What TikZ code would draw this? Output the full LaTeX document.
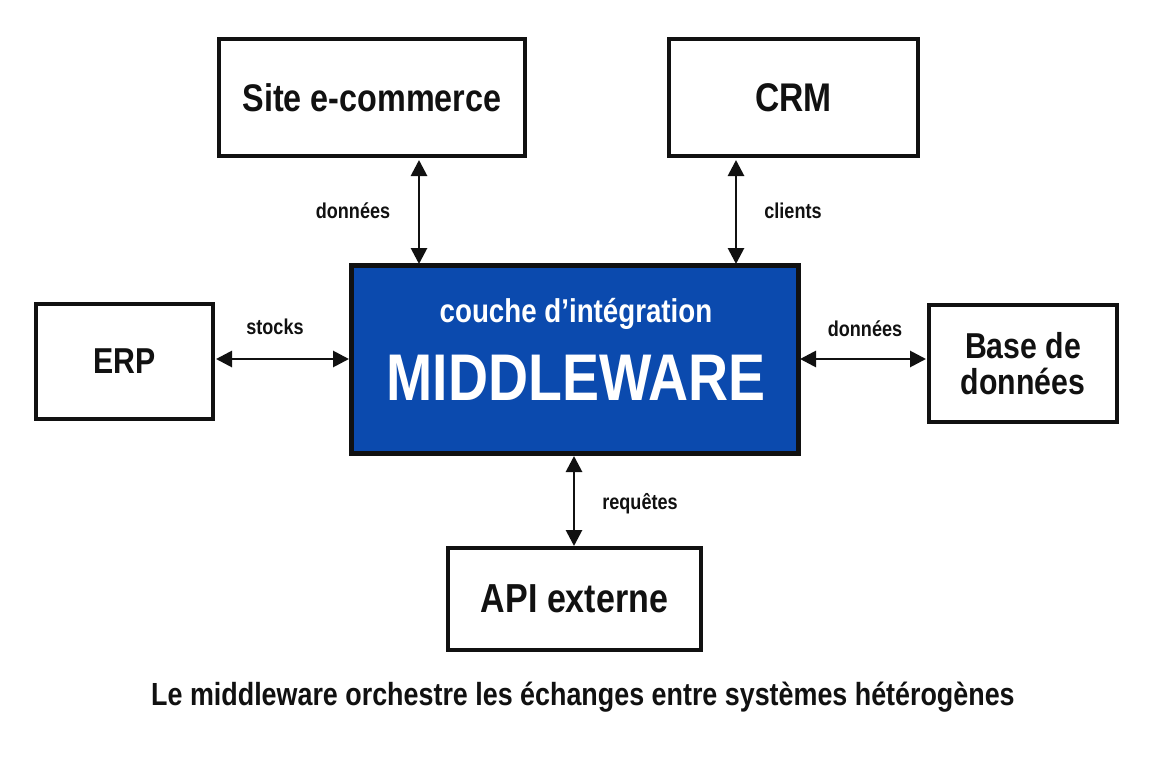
\documentclass[tikz,border=0pt]{standalone}
\usepackage{fontspec}
\setmainfont{Liberation Sans}[FakeStretch=0.84]
\usetikzlibrary{arrows.meta}
\definecolor{mwblue}{HTML}{0B4AAE}
\definecolor{ink}{HTML}{111111}
\tikzset{
  sysbox/.style={draw=ink, line width=4pt, fill=white, text=ink, font=\bfseries\fontsize{36}{40}\selectfont, align=center, inner sep=0pt},
  mwbox/.style={draw=ink, line width=5pt, fill=mwblue, inner sep=0pt},
  link/.style={draw=ink, line width=2.8pt, {Triangle[length=16pt,width=16pt]}-{Triangle[length=16pt,width=16pt]}},
  lbl/.style={text=ink, font=\bfseries\fontsize{21.5}{24}\selectfont, inner sep=0pt},
}
\begin{document}
\begin{tikzpicture}[x=1pt,y=-1pt]
\useasboundingbox (0,0) rectangle (1152,768);
\fill[white] (0,0) rectangle (1152,768);
% boxes
\node[sysbox, minimum width=306pt, minimum height=117pt, font=\bfseries\fontsize{38.5}{42}\selectfont] (site) at (372,97.5) {Site e-commerce};
\node[sysbox, minimum width=249pt, minimum height=117pt, font=\bfseries\fontsize{40}{44}\selectfont] (crm) at (793.5,97.5) {CRM};
\node[sysbox, minimum width=177pt, minimum height=115pt] (erp) at (124.5,361.5) {ERP};
\node[sysbox, minimum width=188pt, minimum height=117pt] (bdd) at (1023,363.5) {Base de\\[-4pt]données};
\node[sysbox, minimum width=253pt, minimum height=102pt, font=\bfseries\fontsize{40.5}{44}\selectfont] (api) at (574.5,599) {API externe};
\node[mwbox, minimum width=447pt, minimum height=188pt] (mw) at (574.5,359) {};
\node[text=white, font=\bfseries\fontsize{33}{36}\selectfont, inner sep=0pt] (mwsub) at (576,314) {couche d’intégration};
\node[text=white, font=\bfseries\fontsize{66}{70}\selectfont, inner sep=0pt] (mwtitle) at (576,378) {MIDDLEWARE};
% connectors
\coordinate (siteb) at (419,160);
\coordinate (sitem) at (419,264);
\coordinate (crmb) at (736,160);
\coordinate (crmm) at (736,264);
\coordinate (erpr) at (216,359);
\coordinate (erpm) at (349,359);
\coordinate (bddl) at (926,359);
\coordinate (bddm) at (800,359);
\coordinate (apit) at (574,546);
\coordinate (apim) at (574,456);
\draw[link] (siteb) -- (sitem);
\draw[link] (crmb) -- (crmm);
\draw[link] (erpr) -- (erpm);
\draw[link] (bddm) -- (bddl);
\draw[link] (apim) -- (apit);
% labels
\node[lbl] (l1) at (353,211) {données};
\node[lbl] (l2) at (793,211) {clients};
\node[lbl] (l3) at (275,327) {stocks};
\node[lbl] (l4) at (865,329) {données};
\node[lbl] (l5) at (640,504) {requêtes};
\node[text=ink, font=\bfseries\fontsize{32}{36}\selectfont, inner sep=0pt] (cap) at (583,697) {Le middleware orchestre les échanges entre systèmes hétérogènes};
\end{tikzpicture}
\end{document}
